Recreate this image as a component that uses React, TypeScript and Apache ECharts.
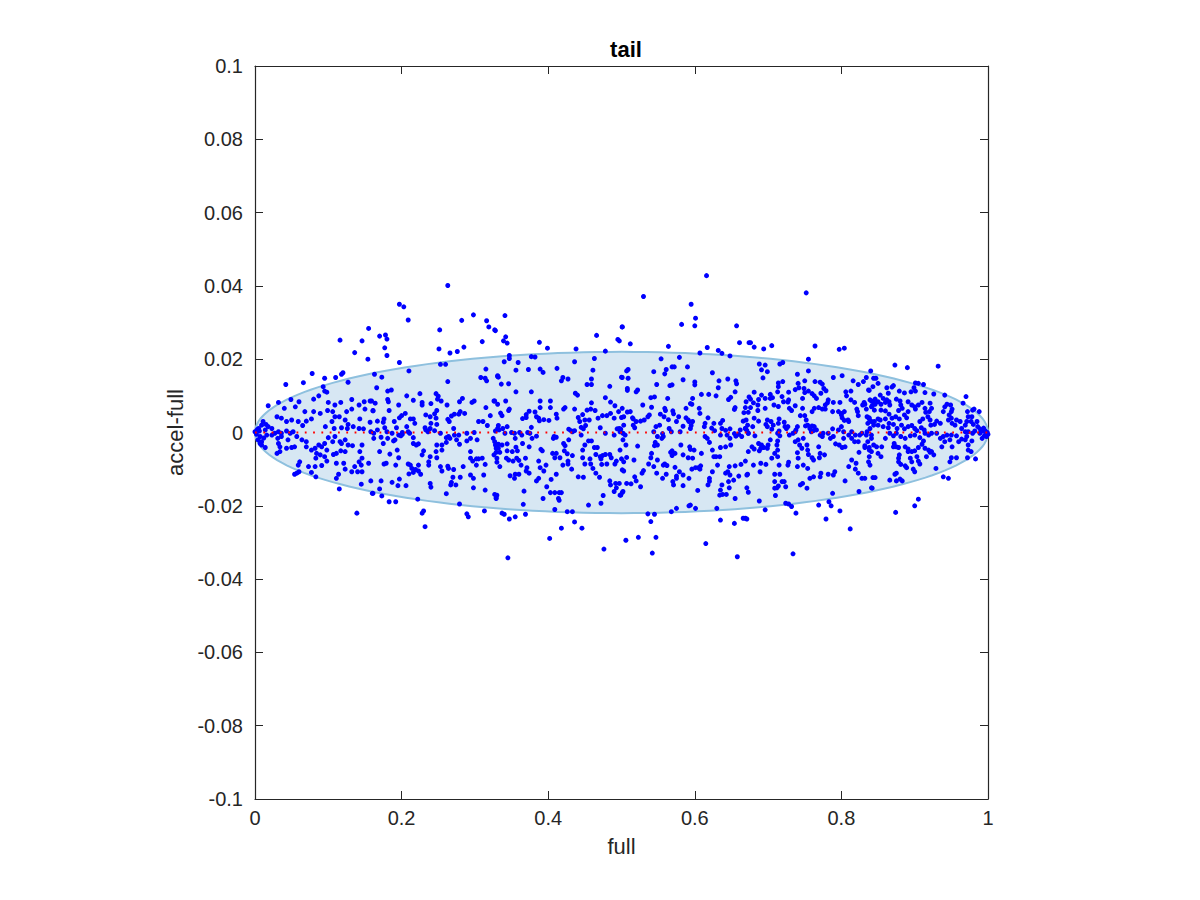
import React, { useEffect, useRef } from "react";
import * as echarts from "echarts";

const TITLE = "tail";
const X_NAME = "full";
const Y_NAME = "accel-full";
const X_RANGE = [0, 1];
const X_STEP = 0.2;
const Y_RANGE = [-0.1, 0.1];
const Y_STEP = 0.02;

// fitted ellipse: center and semi-axes (data units)
const ELLIPSE_CENTER = [0.5, 0];
const ELLIPSE_RADII = [0.5, 0.022];
// mean line drawn at accel-full = 0
const ZERO_LINE = [[0, 0], [1, 0]];

// observations, read region by region (x = full, y = accel-full)
const pointsA = [
  [0.155, 0.0284], [0.116, 0.0252], [0.146, 0.025], [0.136, 0.0218], [0.154, 0.02], [0.12, 0.0163], [0.118, 0.0159],
  [0.11, 0.015], [0.095, 0.0148], [0.078, 0.0161], [0.066, 0.0136], [0.042, 0.0131], [0.127, 0.0137], [0.093, 0.0125],
  [0.098, 0.011], [0.095, 0.0113], [0.049, 0.009], [0.06, 0.0084], [0.08, 0.0091], [0.087, 0.01], [0.1, 0.0082],
  [0.109, 0.0075], [0.117, 0.0082], [0.132, 0.009], [0.142, 0.0075], [0.149, 0.0084], [0.157, 0.0086], [0.161, 0.006],
  [0.15, 0.0064], [0.018, 0.0073], [0.032, 0.0082], [0.04, 0.0066], [0.055, 0.007], [0.068, 0.0057], [0.08, 0.0057],
  [0.03, 0.0043], [0.036, 0.0039], [0.043, 0.003], [0.05, 0.0034], [0.059, 0.003], [0.065, 0.0019], [0.07, 0.0031],
  [0.077, 0.0037], [0.089, 0.0052], [0.099, 0.006], [0.106, 0.0057], [0.109, 0.0043], [0.105, 0.003], [0.115, 0.0043],
  [0.125, 0.0057], [0.132, 0.0064], [0.123, 0.0034], [0.143, 0.0037], [0.127, 0.0022], [0.096, 0.0016], [0.108, 0.0011],
  [0.118, 0.0013], [0.126, 0.0011], [0.134, 0.0016], [0.142, 0.0011], [0.148, 0.001], [0.158, 0.0002],
  [0.0, 0.0002], [0.005, 0.0011], [0.009, 0.002], [0.011, 0.003], [0.014, 0.0007], [0.018, 0.0016], [0.023, 0.0011],
  [0.007, -0.0011], [0.004, -0.002], [0.009, -0.0025], [0.016, -0.0007], [0.023, -0.0007], [0.027, -0.0002],
  [0.032, 0.0002], [0.036, -0.0002], [0.043, 0.0004], [0.048, -0.0002], [0.052, 0.0002], [0.002, -0.0005],
  [0.003, 0.0008], [0.006, 0.0004], [0.012, -0.0015], [0.015, 0.0022],
  [0.009, -0.0034], [0.014, -0.0041], [0.007, -0.003], [0.031, -0.0016], [0.036, -0.0011], [0.045, -0.002],
  [0.032, -0.003], [0.034, -0.0039], [0.03, -0.0057], [0.034, -0.0052], [0.043, -0.0043], [0.05, -0.0041],
  [0.054, -0.0039], [0.057, -0.0011], [0.064, -0.002], [0.07, -0.0025], [0.07, -0.0039], [0.077, -0.0048],
  [0.082, -0.0043], [0.084, -0.0057], [0.087, -0.0034], [0.091, -0.0039], [0.095, -0.003], [0.098, -0.0048],
  [0.1, -0.0014], [0.106, -0.0025], [0.109, -0.0011], [0.116, -0.0025], [0.118, -0.003], [0.123, -0.002],
  [0.127, -0.0034], [0.133, -0.0036], [0.095, -0.0066], [0.083, -0.007], [0.089, -0.0061], [0.098, -0.0078],
  [0.107, -0.006], [0.111, -0.0057], [0.117, -0.005], [0.123, -0.0052], [0.146, -0.0034], [0.143, -0.0052],
  [0.146, -0.007], [0.142, -0.008], [0.145, -0.0089], [0.155, -0.0084], [0.136, -0.0093], [0.121, -0.0084],
  [0.111, -0.0084], [0.114, -0.0114], [0.123, -0.01], [0.132, -0.0107], [0.14, -0.0107], [0.146, -0.0107],
  [0.061, -0.008], [0.059, -0.0089], [0.054, -0.0114], [0.057, -0.0111], [0.06, -0.0107], [0.073, -0.0093],
  [0.082, -0.0093], [0.091, -0.009], [0.077, -0.0109], [0.083, -0.0121], [0.111, -0.0125], [0.145, -0.0141],
  [0.115, -0.0154], [0.16, -0.0166], [0.139, -0.022],
];

const pointsB = [
  [0.263, 0.0401], [0.197, 0.035], [0.203, 0.0343], [0.209, 0.0307], [0.298, 0.0321], [0.282, 0.0306], [0.316, 0.0305],
  [0.319, 0.0288], [0.328, 0.0278], [0.252, 0.028], [0.17, 0.0263], [0.178, 0.0266], [0.18, 0.0255], [0.177, 0.0231],
  [0.18, 0.021], [0.31, 0.0248], [0.285, 0.0233], [0.251, 0.0228], [0.266, 0.0217], [0.276, 0.0221], [0.197, 0.0191],
  [0.253, 0.0186], [0.26, 0.0186], [0.21, 0.0168], [0.163, 0.0159], [0.173, 0.0151], [0.263, 0.0139], [0.308, 0.015],
  [0.314, 0.0148], [0.316, 0.0141], [0.331, 0.0153], [0.315, 0.0173],
  [0.166, 0.0122], [0.181, 0.0113], [0.186, 0.0116], [0.207, 0.01], [0.225, 0.0106], [0.247, 0.0106], [0.25, 0.0099],
  [0.249, 0.0091], [0.228, 0.0082], [0.228, 0.0075], [0.216, 0.0088], [0.196, 0.0075], [0.181, 0.009], [0.182, 0.0084],
  [0.164, 0.008], [0.159, 0.0086], [0.254, 0.0086], [0.262, 0.0075], [0.24, 0.0079], [0.279, 0.0084], [0.283, 0.0093],
  [0.296, 0.0082], [0.299, 0.0086], [0.326, 0.0086], [0.315, 0.0068], [0.331, 0.0077], [0.321, 0.0046], [0.28, 0.0057],
  [0.286, 0.0052], [0.278, 0.005], [0.272, 0.005], [0.268, 0.0045], [0.263, 0.0036], [0.265, 0.003], [0.248, 0.006],
  [0.245, 0.0051], [0.239, 0.0043], [0.233, 0.0048], [0.247, 0.0039], [0.24, 0.0025], [0.239, 0.0011], [0.248, 0.0022],
  [0.245, 0.0005], [0.216, 0.0037], [0.212, 0.0037], [0.218, 0.0025], [0.205, 0.0052], [0.2, 0.0046], [0.197, 0.004],
  [0.19, 0.003], [0.193, 0.0013], [0.183, 0.006], [0.176, 0.0037], [0.175, 0.0028], [0.167, 0.0031], [0.161, 0.0059],
  [0.157, 0.0028], [0.177, 0.0013], [0.18, 0.0002], [0.167, 0.0007], [0.207, 0.0016], [0.209, 0.0002], [0.201, 0.0],
  [0.196, -0.0007], [0.162, -0.0002], [0.162, -0.0016], [0.172, -0.0013], [0.187, -0.0002], [0.189, -0.0023],
  [0.191, -0.002], [0.201, -0.0005], [0.199, -0.0009], [0.211, -0.0002], [0.216, -0.0014], [0.233, 0.0007],
  [0.232, 0.0013], [0.236, 0.0002], [0.253, -0.0002], [0.271, 0.0011], [0.272, -0.0007], [0.261, -0.0014],
  [0.264, -0.0011], [0.278, -0.0007], [0.289, -0.0002], [0.299, 0.0], [0.305, 0.003], [0.311, 0.003], [0.317, 0.0019],
  [0.328, 0.0004], [0.333, 0.0007], [0.332, 0.0019], [0.325, -0.0016], [0.303, -0.002], [0.294, -0.0016],
  [0.275, -0.002], [0.266, -0.0016],
  [0.175, -0.003], [0.181, -0.0016], [0.17, -0.0052], [0.179, -0.0084], [0.176, -0.0086], [0.184, -0.0059],
  [0.194, -0.0048], [0.196, -0.0069], [0.192, -0.0089], [0.209, -0.0086], [0.216, -0.003], [0.22, -0.0034],
  [0.223, -0.0031], [0.228, -0.0061], [0.23, -0.005], [0.237, -0.008], [0.239, -0.0066], [0.237, -0.0089],
  [0.248, -0.0069], [0.247, -0.0052], [0.255, -0.0034], [0.248, -0.0034], [0.255, -0.0048], [0.261, -0.0027],
  [0.279, -0.0032], [0.289, -0.0023], [0.294, -0.0052], [0.294, -0.007], [0.297, -0.0078], [0.302, -0.0072],
  [0.305, -0.0072], [0.31, -0.007], [0.314, -0.0087], [0.302, -0.0089], [0.328, -0.0034], [0.332, -0.0043],
  [0.329, -0.0054], [0.326, -0.0061], [0.33, -0.0081], [0.334, -0.0093], [0.212, -0.0089], [0.214, -0.0098],
  [0.219, -0.0101], [0.223, -0.0105], [0.226, -0.0114], [0.223, -0.0089], [0.197, -0.0127], [0.21, -0.0113],
  [0.216, -0.0109], [0.253, -0.0093], [0.255, -0.0105], [0.263, -0.0092], [0.264, -0.0098], [0.271, -0.0101],
  [0.284, -0.0093], [0.294, -0.0116], [0.298, -0.0125], [0.312, -0.0116], [0.28, -0.0122], [0.27, -0.0122],
  [0.268, -0.0136], [0.267, -0.0143], [0.274, -0.0143], [0.298, -0.0151], [0.314, -0.0157], [0.33, -0.0171],
  [0.329, -0.018], [0.239, -0.0139], [0.24, -0.0149], [0.261, -0.0167], [0.206, -0.0145], [0.195, -0.0145],
  [0.187, -0.0136], [0.172, -0.0132], [0.158, -0.0132], [0.17, -0.0154], [0.161, -0.0166], [0.173, -0.0173],
  [0.183, -0.0189], [0.192, -0.0189], [0.222, -0.0182], [0.23, -0.0214], [0.228, -0.022], [0.232, -0.0257],
  [0.279, -0.0195], [0.289, -0.0222], [0.291, -0.023], [0.313, -0.0214],
];

const pointsC = [
  [0.341, 0.0319], [0.327, 0.028], [0.342, 0.0261], [0.339, 0.025], [0.344, 0.0244], [0.388, 0.0246], [0.399, 0.023],
  [0.501, 0.0288], [0.466, 0.0265], [0.495, 0.0254], [0.497, 0.025], [0.438, 0.0228], [0.478, 0.0222], [0.347, 0.021],
  [0.347, 0.0202], [0.34, 0.0193], [0.359, 0.0191], [0.377, 0.0207], [0.382, 0.0206], [0.436, 0.0193], [0.463, 0.0202],
  [0.501, 0.015], [0.461, 0.017], [0.459, 0.0146], [0.356, 0.017], [0.373, 0.0172], [0.389, 0.0173], [0.393, 0.0164],
  [0.412, 0.0175], [0.42, 0.015], [0.418, 0.0141], [0.427, 0.0146], [0.331, 0.0155], [0.332, 0.0151], [0.336, 0.0132],
  [0.346, 0.0133], [0.356, 0.0111], [0.377, 0.0111], [0.453, 0.0131], [0.459, 0.0131], [0.484, 0.0126],
  [0.327, 0.0086], [0.342, 0.0086], [0.347, 0.0064], [0.346, 0.006], [0.335, 0.0053], [0.337, 0.0046], [0.365, 0.0038],
  [0.37, 0.0041], [0.37, 0.0049], [0.374, 0.0058], [0.382, 0.0056], [0.389, 0.0068], [0.389, 0.0086], [0.403, 0.0086],
  [0.403, 0.0068], [0.411, 0.005], [0.412, 0.0039], [0.401, 0.0033], [0.394, 0.0035], [0.387, 0.0039], [0.384, 0.0043],
  [0.388, 0.0032], [0.421, 0.0064], [0.423, 0.0068], [0.436, 0.0064], [0.437, 0.0107], [0.44, 0.0102], [0.441, 0.0041],
  [0.447, 0.0049], [0.443, 0.003], [0.453, 0.0061], [0.45, 0.0034], [0.456, 0.0034], [0.458, 0.0064], [0.464, 0.006],
  [0.459, 0.0081], [0.468, 0.0039], [0.474, 0.0046], [0.48, 0.0046], [0.478, 0.0095], [0.485, 0.0083], [0.491, 0.0073],
  [0.49, 0.0039], [0.496, 0.0057], [0.501, 0.0066], [0.503, 0.0043], [0.485, 0.0052],
  [0.331, 0.0011], [0.338, 0.0011], [0.344, 0.0016], [0.341, -0.0002], [0.35, 0.0], [0.354, -0.0002], [0.361, 0.0],
  [0.372, 0.0], [0.377, 0.0014], [0.384, -0.001], [0.408, -0.0011], [0.407, -0.0016], [0.411, -0.0013], [0.428, 0.0009],
  [0.431, 0.0005], [0.433, 0.0002], [0.428, -0.002], [0.436, 0.0005], [0.445, 0.0014], [0.448, 0.001], [0.451, 0.0019],
  [0.445, -0.0007], [0.455, -0.0023], [0.459, -0.0023], [0.471, 0.0013], [0.478, -0.0002], [0.49, -0.0007],
  [0.494, 0.001], [0.499, 0.0009], [0.502, -0.0002], [0.502, -0.002], [0.497, 0.0011], [0.375, -0.0002],
  [0.355, -0.0016], [0.364, -0.0007],
  [0.327, -0.0025], [0.332, -0.0032], [0.337, -0.0034], [0.329, -0.0043], [0.334, -0.0054], [0.344, -0.0031],
  [0.344, -0.005], [0.343, -0.007], [0.346, -0.0075], [0.33, -0.007], [0.356, -0.004], [0.351, -0.0052],
  [0.358, -0.005], [0.36, -0.0076], [0.357, -0.007], [0.352, -0.0078], [0.363, -0.0089], [0.371, -0.0096],
  [0.369, -0.007], [0.374, -0.0039], [0.365, -0.003], [0.378, -0.0016], [0.39, -0.0046], [0.392, -0.005],
  [0.387, -0.0078], [0.389, -0.0096], [0.394, -0.0105], [0.397, -0.0089], [0.406, -0.0057], [0.411, -0.0057],
  [0.409, -0.0069], [0.416, -0.0069], [0.421, -0.003], [0.423, -0.0036], [0.422, -0.005], [0.426, -0.0058],
  [0.433, -0.0063], [0.427, -0.0078], [0.42, -0.0089], [0.427, -0.0086], [0.447, -0.0048], [0.45, -0.0034],
  [0.447, -0.0069], [0.45, -0.0086], [0.457, -0.0072], [0.458, -0.0086], [0.465, -0.006], [0.467, -0.0041],
  [0.463, -0.0041], [0.472, -0.0072], [0.471, -0.0066], [0.474, -0.0063], [0.478, -0.006], [0.484, -0.006],
  [0.486, -0.0069], [0.48, -0.0086], [0.473, -0.0087], [0.491, -0.0086], [0.493, -0.0078], [0.503, -0.008],
  [0.501, -0.0102], [0.461, -0.0098], [0.465, -0.0111], [0.47, -0.0122], [0.448, -0.0122], [0.441, -0.0121],
  [0.432, -0.01], [0.404, -0.0128], [0.411, -0.0114], [0.387, -0.0125], [0.384, -0.0132], [0.37, -0.0105],
  [0.374, -0.0111], [0.36, -0.0114], [0.355, -0.0114], [0.354, -0.0125], [0.348, -0.0118], [0.398, -0.0148],
  [0.403, -0.0164], [0.409, -0.0164], [0.415, -0.0164], [0.418, -0.0164], [0.414, -0.018], [0.415, -0.0185],
  [0.367, -0.016], [0.366, -0.0196], [0.393, -0.018], [0.327, -0.0169], [0.329, -0.0178], [0.475, -0.0172],
  [0.472, -0.0193], [0.484, -0.0132], [0.485, -0.0143], [0.492, -0.0139], [0.497, -0.0139], [0.49, -0.0161],
  [0.493, -0.0151], [0.499, -0.0171], [0.501, -0.0164], [0.455, -0.0198], [0.409, -0.021], [0.426, -0.0216],
  [0.433, -0.0216], [0.347, -0.0236], [0.337, -0.022], [0.34, -0.0223], [0.355, -0.023], [0.369, -0.0223],
  [0.436, -0.0244], [0.446, -0.0261], [0.418, -0.0261], [0.402, -0.0289], [0.476, -0.0318], [0.345, -0.0342],
];

const pointsD = [
  [0.616, 0.0428], [0.53, 0.0371], [0.595, 0.035], [0.601, 0.0312], [0.6, 0.0291], [0.582, 0.0295], [0.657, 0.0291],
  [0.501, 0.0288], [0.512, 0.0242], [0.564, 0.0235], [0.617, 0.0232], [0.661, 0.0245], [0.674, 0.0245], [0.607, 0.0217],
  [0.632, 0.0224], [0.637, 0.0216], [0.648, 0.0209], [0.579, 0.0205], [0.554, 0.0201], [0.569, 0.0179], [0.572, 0.0179],
  [0.59, 0.0179], [0.561, 0.0172], [0.507, 0.0168], [0.509, 0.0172], [0.544, 0.0166], [0.559, 0.016], [0.5, 0.0151],
  [0.509, 0.0148], [0.624, 0.0163], [0.633, 0.0141], [0.645, 0.0146], [0.656, 0.0141], [0.657, 0.0133], [0.632, 0.0122],
  [0.646, 0.009], [0.649, 0.0096], [0.655, 0.0111], [0.674, 0.0097], [0.584, 0.0144], [0.6, 0.0138], [0.6, 0.013],
  [0.569, 0.013], [0.566, 0.0128], [0.548, 0.0131], [0.508, 0.012], [0.522, 0.0116], [0.52, 0.0111], [0.508, 0.0115],
  [0.563, 0.0093], [0.545, 0.0097], [0.54, 0.0095], [0.597, 0.0093], [0.609, 0.0104], [0.619, 0.0104], [0.629, 0.01],
  [0.594, 0.0079], [0.596, 0.0077], [0.606, 0.0066], [0.607, 0.0052], [0.588, 0.0066], [0.559, 0.0066], [0.56, 0.006],
  [0.57, 0.0059], [0.571, 0.0051], [0.578, 0.0043], [0.575, 0.003], [0.564, 0.0035], [0.558, 0.0043], [0.553, 0.005],
  [0.541, 0.0069], [0.529, 0.0075], [0.536, 0.0043], [0.531, 0.0034], [0.538, 0.0048], [0.526, 0.0031], [0.52, 0.003],
  [0.515, 0.004], [0.512, 0.0057], [0.508, 0.0056], [0.5, 0.0041], [0.503, 0.002], [0.516, 0.002], [0.518, 0.0013],
  [0.516, 0.0037], [0.588, 0.004], [0.592, 0.003], [0.595, 0.0019], [0.594, 0.0011], [0.591, 0.0034], [0.597, 0.003],
  [0.584, 0.0017], [0.58, 0.0002], [0.568, 0.0002], [0.565, 0.0011], [0.552, 0.002], [0.547, 0.0016], [0.549, -0.0011],
  [0.544, 0.0002], [0.556, -0.0003], [0.618, 0.004], [0.614, 0.0025], [0.613, 0.0016], [0.623, 0.0012], [0.627, 0.0005],
  [0.626, 0.0025], [0.635, 0.0025], [0.638, 0.0033], [0.637, 0.0011], [0.642, 0.0006], [0.654, 0.0063], [0.655, 0.0068],
  [0.667, 0.0054], [0.673, 0.0055], [0.666, 0.0031], [0.662, 0.0007], [0.669, 0.0011], [0.671, 0.0006], [0.673, -0.0002],
  [0.648, 0.001], [0.644, -0.0007], [0.648, -0.0016], [0.654, -0.0003], [0.66, -0.0005], [0.664, -0.0011],
  [0.649, -0.0034], [0.656, -0.001],
  [0.498, 0.0002], [0.505, -0.0007], [0.506, -0.0034], [0.498, -0.0048], [0.507, -0.0068], [0.5, -0.0072],
  [0.522, -0.0037], [0.517, -0.0075], [0.503, -0.0105], [0.52, -0.0132], [0.518, -0.0121], [0.528, -0.0111],
  [0.53, -0.0104], [0.526, -0.0148], [0.513, -0.014], [0.507, -0.0139], [0.498, -0.0171], [0.502, -0.0161],
  [0.541, -0.0057], [0.54, -0.0069], [0.537, -0.0086], [0.544, -0.0093], [0.549, -0.0075], [0.549, -0.0034],
  [0.545, -0.0036], [0.546, -0.0027], [0.555, -0.0016], [0.557, -0.0011], [0.569, -0.005], [0.567, -0.0054],
  [0.573, -0.0057], [0.569, -0.0063], [0.581, -0.0034], [0.593, -0.0039], [0.594, -0.0046], [0.599, -0.0048],
  [0.597, -0.007], [0.591, -0.0069], [0.609, -0.0057], [0.608, -0.0091], [0.605, -0.0096], [0.607, -0.01],
  [0.601, -0.0096], [0.596, -0.01], [0.584, -0.0061], [0.573, -0.0095], [0.557, -0.0089], [0.559, -0.0086],
  [0.562, -0.009], [0.561, -0.0114], [0.548, -0.0111], [0.556, -0.0125], [0.579, -0.0107], [0.575, -0.0119],
  [0.57, -0.0134], [0.571, -0.0143], [0.575, -0.0125], [0.584, -0.0116], [0.592, -0.0125], [0.584, -0.0145],
  [0.604, -0.0158], [0.618, -0.0143], [0.62, -0.0133], [0.62, -0.0125], [0.624, -0.0107], [0.631, -0.0089],
  [0.626, -0.0066], [0.629, -0.0066], [0.634, -0.0066], [0.635, -0.0041], [0.642, -0.0039], [0.624, -0.0048],
  [0.617, -0.0016], [0.614, -0.0011], [0.62, -0.0027], [0.635, -0.0007], [0.647, -0.0093], [0.655, -0.0091],
  [0.663, -0.0087], [0.645, -0.0107], [0.642, -0.0111], [0.648, -0.0116], [0.66, -0.0119], [0.653, -0.013],
  [0.671, -0.0116], [0.637, -0.0143], [0.635, -0.0157], [0.634, -0.0171], [0.638, -0.0169], [0.643, -0.0169],
  [0.647, -0.0151], [0.646, -0.0134], [0.655, -0.018], [0.671, -0.0151], [0.673, -0.0163], [0.594, -0.0198],
  [0.592, -0.02], [0.601, -0.0207], [0.63, -0.0207], [0.568, -0.0216], [0.575, -0.0207], [0.545, -0.0223],
  [0.536, -0.0222], [0.54, -0.0243], [0.635, -0.0239], [0.654, -0.0248], [0.666, -0.0234], [0.671, -0.0236],
  [0.615, -0.0303], [0.506, -0.0294], [0.523, -0.0286], [0.547, -0.0286], [0.542, -0.0329], [0.658, -0.0339],
];

const pointsE = [
  [0.752, 0.0381], [0.676, 0.0245], [0.681, 0.0233], [0.694, 0.0228], [0.705, 0.0237], [0.764, 0.0236], [0.797, 0.0227],
  [0.804, 0.023], [0.755, 0.02], [0.72, 0.0191], [0.716, 0.0187], [0.688, 0.0187], [0.696, 0.0184], [0.691, 0.0171],
  [0.699, 0.0166], [0.693, 0.0149], [0.74, 0.0159], [0.755, 0.0168], [0.789, 0.015], [0.801, 0.0155], [0.844, 0.0148],
  [0.83, 0.0139], [0.823, 0.0131], [0.816, 0.0141], [0.838, 0.0115], [0.843, 0.0125], [0.813, 0.0113],
  [0.714, 0.0135], [0.72, 0.0139], [0.714, 0.0125], [0.75, 0.0141], [0.741, 0.0134], [0.742, 0.0122], [0.737, 0.0117],
  [0.728, 0.011], [0.728, 0.0089], [0.727, 0.0083], [0.719, 0.0098], [0.713, 0.0111], [0.703, 0.0104], [0.706, 0.0095],
  [0.696, 0.0093], [0.691, 0.0102], [0.687, 0.009], [0.681, 0.011], [0.68, 0.0081], [0.676, 0.0091], [0.67, 0.0084],
  [0.669, 0.0068], [0.676, 0.0068], [0.686, 0.0075], [0.696, 0.0066], [0.703, 0.0093], [0.708, 0.0075], [0.714, 0.0071],
  [0.721, 0.0084], [0.729, 0.0066], [0.732, 0.006], [0.737, 0.0073], [0.747, 0.0093], [0.749, 0.012], [0.75, 0.0109],
  [0.755, 0.0113], [0.76, 0.0106], [0.763, 0.01], [0.766, 0.0093], [0.772, 0.0107], [0.776, 0.012], [0.779, 0.0114],
  [0.764, 0.0139], [0.771, 0.0137], [0.774, 0.0132], [0.782, 0.0089], [0.781, 0.0081], [0.778, 0.0075], [0.789, 0.0082],
  [0.798, 0.0082], [0.806, 0.0111], [0.807, 0.01], [0.813, 0.0089], [0.818, 0.0082], [0.831, 0.0082], [0.829, 0.0075],
  [0.839, 0.0089], [0.842, 0.0073], [0.844, 0.0082], [0.747, 0.0066], [0.744, 0.0046], [0.75, 0.0046], [0.752, 0.0034],
  [0.76, 0.0057], [0.763, 0.0066], [0.769, 0.0068], [0.774, 0.0064], [0.778, 0.0064], [0.788, 0.0057], [0.796, 0.0057],
  [0.8, 0.0052], [0.8, 0.0048], [0.804, 0.0057], [0.801, 0.004], [0.804, 0.0033], [0.809, 0.0034], [0.81, 0.003],
  [0.821, 0.0064], [0.822, 0.0057], [0.823, 0.0046], [0.835, 0.0043], [0.838, 0.004], [0.841, 0.003], [0.686, 0.006],
  [0.687, 0.0031], [0.681, 0.0039], [0.67, 0.0034], [0.672, 0.002], [0.679, 0.0016], [0.699, 0.0034], [0.697, 0.0022],
  [0.699, 0.0016], [0.704, 0.003], [0.707, 0.002], [0.705, 0.0009], [0.715, 0.0037], [0.714, 0.0025], [0.722, 0.0028],
  [0.723, 0.0016], [0.727, 0.0016], [0.74, 0.0016], [0.738, 0.0007], [0.725, 0.0011], [0.715, 0.0004], [0.713, -0.0002],
  [0.729, -0.0007], [0.734, -0.0002], [0.737, 0.0002], [0.751, 0.0018], [0.754, 0.002], [0.757, 0.0011], [0.76, 0.0018],
  [0.763, 0.0016], [0.759, 0.0002], [0.762, 0.0005], [0.766, 0.0007], [0.771, -0.0007], [0.775, -0.0002],
  [0.782, -0.0002], [0.788, 0.001], [0.796, 0.0007], [0.8, 0.0016], [0.803, 0.0002], [0.81, -0.0007], [0.814, 0.0002],
  [0.819, -0.0007], [0.825, -0.0007], [0.828, -0.0002], [0.835, 0.0002], [0.839, 0.0011], [0.844, 0.002],
  [0.841, -0.0007],
  [0.669, 0.0011], [0.673, -0.0002], [0.682, -0.0009], [0.687, -0.003], [0.691, -0.0034], [0.694, -0.0041],
  [0.69, -0.0043], [0.688, -0.005], [0.678, -0.0039], [0.681, -0.0045], [0.673, -0.0052], [0.669, -0.0078],
  [0.672, -0.0114], [0.68, -0.0089], [0.689, -0.0107], [0.69, -0.0084], [0.697, -0.0087], [0.7, -0.0034],
  [0.699, -0.0043], [0.703, -0.002], [0.713, -0.0023], [0.716, -0.0009], [0.712, -0.0034], [0.713, -0.0048],
  [0.709, -0.0057], [0.713, -0.0066], [0.705, -0.007], [0.715, -0.0089], [0.716, -0.0114], [0.709, -0.0114],
  [0.709, -0.0134], [0.719, -0.0134], [0.722, -0.0134], [0.714, -0.0146], [0.712, -0.0151], [0.709, -0.0152],
  [0.71, -0.0172], [0.724, -0.0148], [0.727, -0.0089], [0.728, -0.0081], [0.737, -0.0025], [0.741, -0.002],
  [0.743, -0.0034], [0.753, -0.0034], [0.754, -0.0048], [0.755, -0.006], [0.746, -0.0043], [0.74, -0.0055],
  [0.741, -0.007], [0.74, -0.0093], [0.748, -0.0016], [0.76, -0.0069], [0.762, -0.0075], [0.77, -0.0069],
  [0.771, -0.0057], [0.777, -0.0061], [0.769, -0.0039], [0.774, -0.0011], [0.785, -0.0016], [0.789, -0.0011],
  [0.792, -0.0031], [0.797, -0.0034], [0.801, -0.0041], [0.805, -0.0039], [0.803, -0.0016], [0.814, -0.0016],
  [0.818, -0.0025], [0.823, -0.0025], [0.832, -0.0041], [0.838, -0.0041], [0.841, -0.0052], [0.838, -0.0066],
  [0.824, -0.0054], [0.814, -0.0075], [0.82, -0.0084], [0.81, -0.0093], [0.819, -0.01], [0.823, -0.0111],
  [0.828, -0.0125], [0.843, -0.0123], [0.841, -0.0151], [0.805, -0.0132], [0.791, -0.0107], [0.789, -0.0116],
  [0.782, -0.0114], [0.772, -0.0111], [0.771, -0.0121], [0.762, -0.0121], [0.754, -0.0098], [0.748, -0.0089],
  [0.757, -0.0125], [0.744, -0.0143], [0.747, -0.0139], [0.753, -0.0152], [0.788, -0.0166], [0.824, -0.0161],
  [0.783, -0.0189], [0.786, -0.02], [0.769, -0.0198], [0.688, -0.0187], [0.696, -0.0211], [0.724, -0.0193],
  [0.728, -0.0195], [0.732, -0.0202], [0.738, -0.022], [0.669, -0.0234], [0.779, -0.0236], [0.798, -0.0214],
  [0.812, -0.0263], [0.734, -0.0331],
];

const pointsF = [
  [0.873, 0.0184], [0.89, 0.0177], [0.932, 0.0181], [0.84, 0.0168], [0.847, 0.0148], [0.85, 0.0134], [0.834, 0.015],
  [0.901, 0.0135], [0.905, 0.0134], [0.912, 0.0131], [0.899, 0.0122], [0.871, 0.0128], [0.869, 0.0124], [0.862, 0.0122],
  [0.837, 0.0116], [0.853, 0.0102], [0.864, 0.0107], [0.879, 0.0113], [0.886, 0.0108], [0.895, 0.0111], [0.901, 0.0113],
  [0.914, 0.0109], [0.926, 0.0105], [0.941, 0.0102], [0.97, 0.0098], [0.966, 0.008],
  [0.846, 0.0091], [0.841, 0.0086], [0.85, 0.0084], [0.857, 0.0093], [0.862, 0.0089], [0.865, 0.0084], [0.866, 0.0075],
  [0.86, 0.0082], [0.854, 0.0077], [0.846, 0.0077], [0.841, 0.007], [0.832, 0.0077], [0.834, 0.0064], [0.845, 0.0061],
  [0.854, 0.0061], [0.86, 0.0059], [0.865, 0.005], [0.875, 0.0091], [0.88, 0.0086], [0.881, 0.0075], [0.891, 0.0084],
  [0.896, 0.0075], [0.9, 0.007], [0.905, 0.0075], [0.91, 0.0082], [0.901, 0.0064], [0.914, 0.0066], [0.921, 0.008],
  [0.923, 0.0066], [0.92, 0.0057], [0.915, 0.0055], [0.918, 0.0043], [0.911, 0.0037], [0.907, 0.003], [0.891, 0.0057],
  [0.883, 0.0066], [0.878, 0.006], [0.886, 0.0048], [0.889, 0.004], [0.879, 0.0037], [0.874, 0.0043], [0.869, 0.0039],
  [0.865, 0.0025], [0.86, 0.0037], [0.853, 0.0034], [0.85, 0.0037], [0.845, 0.003], [0.838, 0.0037], [0.836, 0.0025],
  [0.85, 0.002], [0.857, 0.0016], [0.864, 0.0013], [0.871, 0.0022], [0.876, 0.0011], [0.882, 0.002], [0.886, 0.001],
  [0.891, 0.0016], [0.896, 0.0019], [0.9, 0.0011], [0.903, 0.0005], [0.909, 0.0013], [0.913, 0.0007], [0.921, 0.0034],
  [0.922, 0.002], [0.927, 0.0022], [0.93, 0.0031], [0.935, 0.0025], [0.939, 0.0057], [0.941, 0.007], [0.944, 0.0077],
  [0.949, 0.0075], [0.951, 0.0064], [0.95, 0.0057], [0.947, 0.0048], [0.95, 0.0039], [0.946, 0.0034], [0.951, 0.0025],
  [0.955, 0.002], [0.957, 0.0034], [0.962, 0.003], [0.964, 0.0011], [0.969, 0.002], [0.971, 0.003], [0.973, 0.0043],
  [0.972, 0.0057], [0.979, 0.0061], [0.981, 0.0064], [0.978, 0.0043], [0.977, 0.003], [0.98, 0.0022], [0.985, 0.003],
  [0.988, 0.0057], [0.986, 0.0016], [0.989, 0.001], [0.992, 0.0004], [0.997, -0.0002], [0.995, -0.0009],
  [0.998, -0.0011], [0.992, -0.0016], [0.989, -0.0002], [0.982, 0.0004], [0.979, -0.0002], [0.973, 0.0002],
  [0.969, 0.0002], [0.999, 0.0], [0.996, 0.0005], [1.0, -0.0005], [0.994, 0.0012],
  [0.834, -0.0007], [0.841, -0.0016], [0.836, -0.0025], [0.832, -0.0036], [0.844, -0.0034], [0.848, -0.0039],
  [0.855, -0.0039], [0.838, -0.0048], [0.85, -0.0057], [0.854, -0.0066], [0.86, -0.0016], [0.866, -0.0002],
  [0.871, -0.0009], [0.875, -0.0002], [0.881, -0.0011], [0.887, -0.0016], [0.894, -0.0009], [0.9, -0.0007],
  [0.907, -0.0014], [0.912, -0.0023], [0.914, -0.0002], [0.919, -0.0007], [0.923, -0.0002], [0.93, -0.0002],
  [0.935, -0.0016], [0.939, -0.0011], [0.944, -0.0007], [0.948, -0.002], [0.95, -0.0007], [0.957, -0.0009],
  [0.964, -0.0018], [0.971, -0.0011], [0.978, -0.0023], [0.973, -0.0034], [0.969, -0.002], [0.96, -0.0025],
  [0.871, -0.0039], [0.875, -0.0039], [0.878, -0.0041], [0.872, -0.003], [0.887, -0.0039], [0.891, -0.0045],
  [0.896, -0.0052], [0.9, -0.005], [0.905, -0.0041], [0.91, -0.0032], [0.914, -0.0043], [0.919, -0.0048],
  [0.923, -0.0052], [0.926, -0.0061], [0.921, -0.0054], [0.916, -0.0066], [0.903, -0.0066], [0.891, -0.0052],
  [0.894, -0.007], [0.896, -0.008], [0.905, -0.0078], [0.907, -0.0086], [0.879, -0.0061], [0.878, -0.007],
  [0.878, -0.008], [0.881, -0.0087], [0.887, -0.0091], [0.889, -0.0096], [0.9, -0.0107], [0.898, -0.01],
  [0.929, -0.0098], [0.875, -0.0111], [0.873, -0.0114], [0.875, -0.0132], [0.88, -0.0127], [0.883, -0.0132],
  [0.866, -0.013], [0.846, -0.0123], [0.842, -0.0152], [0.837, -0.008], [0.839, -0.0089], [0.832, -0.0125],
  [0.939, -0.0121], [0.946, -0.0125], [0.948, -0.008], [0.95, -0.0069], [0.957, -0.0069], [0.973, -0.0048],
  [0.972, -0.0069], [0.977, -0.0052], [0.983, -0.0072], [0.951, -0.0039], [0.937, -0.0039], [0.941, -0.0025],
  [0.905, -0.0182], [0.9, -0.02], [0.874, -0.0218],
];

const AXIS_COLOR = "#262626";
const FONT = "'Liberation Sans', Arial, Helvetica, sans-serif";

export default function App() {
  const ref = useRef<HTMLDivElement>(null);

  useEffect(() => {
    if (!ref.current) return;
    const chart = echarts.init(ref.current, null, { renderer: "svg" });
    const points = [...pointsA, ...pointsB, ...pointsC, ...pointsD, ...pointsE, ...pointsF];

    const baseX = {
      type: "value" as const,
      min: X_RANGE[0],
      max: X_RANGE[1],
      interval: X_STEP,
      axisLine: { show: true, onZero: false, lineStyle: { color: AXIS_COLOR, width: 1.2 } },
      axisTick: { show: true, inside: true, length: 8, lineStyle: { color: AXIS_COLOR } },
      splitLine: { show: false },
    };
    const baseY = {
      type: "value" as const,
      min: Y_RANGE[0],
      max: Y_RANGE[1],
      interval: Y_STEP,
      axisLine: { show: true, onZero: false, lineStyle: { color: AXIS_COLOR, width: 1.2 } },
      axisTick: { show: true, inside: true, length: 8, lineStyle: { color: AXIS_COLOR } },
      splitLine: { show: false },
    };

    chart.setOption({
      animation: false,
      backgroundColor: "#ffffff",
      textStyle: { fontFamily: FONT },
      title: {
        text: TITLE,
        left: 621,
        top: 33,
        textAlign: "center",
        textStyle: { fontFamily: FONT, fontSize: 22, fontWeight: "bold", color: "#000000" },
      },
      grid: { left: 255, top: 66, width: 733, height: 733, containLabel: false },
      xAxis: [
        {
          ...baseX,
          position: "bottom",
          name: X_NAME,
          nameLocation: "middle",
          nameGap: 36,
          nameTextStyle: { fontFamily: FONT, fontSize: 22, color: AXIS_COLOR },
          axisLabel: {
            show: true,
            margin: 9,
            fontFamily: FONT,
            fontSize: 20,
            color: AXIS_COLOR,
            formatter: (v: number) => String(parseFloat(v.toFixed(1))),
          },
        },
        { ...baseX, position: "top", axisLabel: { show: false } },
      ],
      yAxis: [
        {
          ...baseY,
          position: "left",
          name: Y_NAME,
          nameLocation: "middle",
          nameGap: 64,
          nameRotate: 90,
          nameTextStyle: { fontFamily: FONT, fontSize: 22, color: AXIS_COLOR },
          axisLabel: {
            show: true,
            margin: 12,
            fontFamily: FONT,
            fontSize: 20,
            color: AXIS_COLOR,
            formatter: (v: number) => String(parseFloat(v.toFixed(2))),
          },
        },
        { ...baseY, position: "right", axisLabel: { show: false } },
      ],
      series: [
        {
          type: "custom",
          silent: true,
          z: 1,
          data: [[ELLIPSE_CENTER[0], ELLIPSE_CENTER[1], ELLIPSE_RADII[0], ELLIPSE_RADII[1]]],
          renderItem: (params: any, api: any) => {
            const cx = api.value(0);
            const cy = api.value(1);
            const rx = api.value(2);
            const ry = api.value(3);
            const pts: number[][] = [];
            const n = 180;
            for (let i = 0; i < n; i++) {
              const t = (i / n) * Math.PI * 2;
              pts.push(api.coord([cx + rx * Math.cos(t), cy + ry * Math.sin(t)]));
            }
            return {
              type: "polygon",
              shape: { points: pts },
              style: { fill: "#d7e7f3", stroke: "#8ec0de", lineWidth: 2 },
            };
          },
        },
        {
          type: "scatter",
          silent: true,
          z: 2,
          symbol: "circle",
          symbolSize: 5,
          itemStyle: { color: "#0000ff", opacity: 1 },
          data: points,
        },
        {
          type: "line",
          silent: true,
          z: 3,
          data: ZERO_LINE,
          showSymbol: false,
          symbol: "none",
          lineStyle: { color: "#ff0000", width: 1.8, type: [1.8, 6.5] },
        },
      ],
    });

    return () => chart.dispose();
  }, []);

  return (
    <div
      ref={ref}
      style={{ position: "fixed", left: 0, top: 0, width: 1200, height: 900, background: "#ffffff" }}
    />
  );
}
